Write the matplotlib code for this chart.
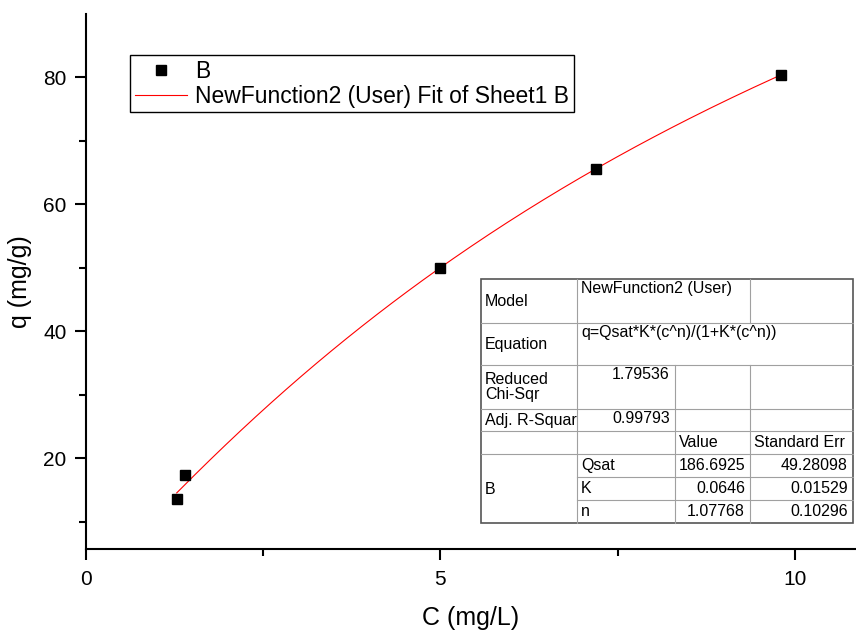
import numpy as np
import matplotlib
matplotlib.use("Agg")
import matplotlib.pyplot as plt

plt.rcParams['font.family'] = ['Liberation Sans', 'DejaVu Sans']

# Data
c_data = [1.28, 1.40, 5.00, 7.20, 9.80]
q_data = [13.5, 17.3, 50.0, 65.6, 80.4]

# Fit parameters (from the table)
Qsat = 186.6925
K = 0.0646
n_exp = 1.07768

table_rows = [
    ["Model", "NewFunction2 (User)", "", ""],
    ["Equation", "q=Qsat*K*(c^n)/(1+K*(c^n))", "", ""],
    ["Reduced\nChi-Sqr", "1.79536", "", ""],
    ["Adj. R-Squar", "0.99793", "", ""],
    ["", "", "Value", "Standard Err"],
    ["B", "Qsat", "186.6925", "49.28098"],
    ["", "K", "0.0646", "0.01529"],
    ["", "n", "1.07768", "0.10296"],
]

W, H = 856, 630
fig = plt.figure(figsize=(W/100, H/100), dpi=100)
L, R, B, T = 86, 855, 549, 14
ax = fig.add_axes([L/W, 1-B/H, (R-L)/W, (B-T)/H])

cfit = np.linspace(min(c_data), max(c_data), 200)
qfit = Qsat*K*cfit**n_exp/(1+K*cfit**n_exp)

ax.plot(c_data, q_data, linestyle='none', marker='s', ms=7.5, color='black', label='B', zorder=3)
ax.plot(cfit, qfit, color='red', lw=0.8, label='NewFunction2 (User) Fit of Sheet1 B', zorder=2)

ax.set_xlim(0, 10.85)
ax.set_ylim(5.67, 90)
ax.set_xticks([0, 5, 10])
ax.set_xticks([2.5, 7.5], minor=True)
ax.set_yticks([20, 40, 60, 80])
ax.set_yticks([10, 30, 50, 70], minor=True)
for s in ['top', 'right']:
    ax.spines[s].set_visible(False)
for s in ['left', 'bottom']:
    ax.spines[s].set_linewidth(1.5)
ax.tick_params(which='major', length=8, width=1.5, direction='out', labelsize=15, pad=6)
ax.tick_params(which='minor', length=5, width=1.5, direction='out')
ax.tick_params(axis='x', pad=7)
ax.set_xlabel('C (mg/L)', fontsize=18, labelpad=12)
ax.set_ylabel('q (mg/g)', fontsize=18, labelpad=8)

leg = ax.legend(loc='upper left', bbox_to_anchor=((130-L)/(R-L), (B-55)/(B-T)),
                fontsize=16.5, frameon=True, fancybox=False, edgecolor='black',
                framealpha=1, borderpad=0.2, handlelength=2.3, handletextpad=0.35,
                labelspacing=0.1, borderaxespad=0)
leg.get_frame().set_linewidth(1.0)

# Overlay for table in pixel coordinates
ov = fig.add_axes([0, 0, 1, 1])
ov.set_xlim(0, W)
ov.set_ylim(H, 0)
ov.axis('off')
ov.patch.set_alpha(0)

xs = [481, 577, 675, 750, 853]
ys = [279, 323, 365, 409, 431, 454, 477, 500, 523]
ov.add_patch(plt.Rectangle((xs[0], ys[0]), xs[-1]-xs[0], ys[-1]-ys[0],
                           facecolor='white', edgecolor='#555555', lw=1.2, zorder=1))
inner = '#a0a0a0'
for i in range(1, 8):
    y = ys[i]
    x0 = xs[1] if i in (6, 7) else xs[0]
    ov.plot([x0, xs[-1]], [y, y], color=inner, lw=0.8, zorder=2)
ov.plot([xs[1], xs[1]], [ys[0], ys[-1]], color=inner, lw=0.8, zorder=2)
ov.plot([xs[3], xs[3]], [ys[0], ys[1]], color=inner, lw=0.8, zorder=2)
ov.plot([xs[2], xs[2]], [ys[2], ys[-1]], color=inner, lw=0.8, zorder=2)
ov.plot([xs[3], xs[3]], [ys[2], ys[-1]], color=inner, lw=0.8, zorder=2)

fs = 11.5
ov.text(xs[0]+4, 301, table_rows[0][0], fontsize=fs, va='center', ha='left')
ov.text(xs[0]+4, 344, table_rows[1][0], fontsize=fs, va='center', ha='left')
ov.text(xs[0]+4, 387, table_rows[2][0], fontsize=fs, va='center', ha='left', linespacing=1.05)
ov.text(xs[0]+4, 420, table_rows[3][0], fontsize=fs, va='center', ha='left')
ov.text(xs[0]+4, 489, table_rows[5][0], fontsize=fs, va='center', ha='left')
ov.text(xs[1]+4, ys[0]+2, table_rows[0][1], fontsize=fs, va='top', ha='left')
ov.text(xs[1]+4, ys[1]+2, table_rows[1][1], fontsize=fs, va='top', ha='left')
ov.text(xs[2]-5, ys[2]+2, table_rows[2][1], fontsize=fs, va='top', ha='right')
ov.text(xs[2]-5, ys[3]+2, table_rows[3][1], fontsize=fs, va='top', ha='right')
ov.text(xs[2]+4, (ys[4]+ys[5])/2, table_rows[4][2], fontsize=fs, va='center', ha='left')
ov.text(xs[3]+4, (ys[4]+ys[5])/2, table_rows[4][3], fontsize=fs, va='center', ha='left')
for r in range(5, 8):
    yc = (ys[r]+ys[r+1])/2
    ov.text(xs[1]+4, yc, table_rows[r][1], fontsize=fs, va='center', ha='left')
    ov.text(xs[3]-5, yc, table_rows[r][2], fontsize=fs, va='center', ha='right')
    ov.text(xs[4]-5, yc, table_rows[r][3], fontsize=fs, va='center', ha='right')

fig.savefig('out.png', dpi=100)
